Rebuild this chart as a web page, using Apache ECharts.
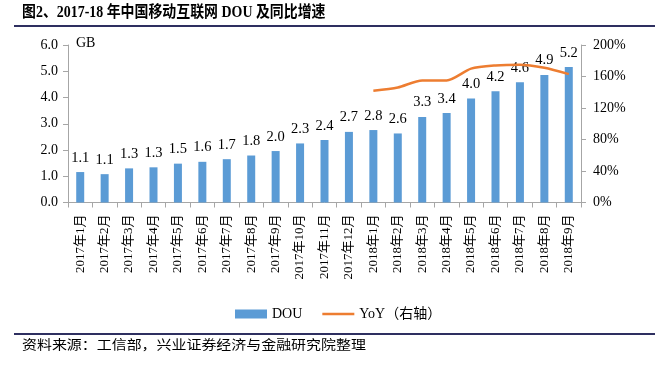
<!DOCTYPE html>
<html><head><meta charset="utf-8">
<script src="https://cdn.jsdelivr.net/npm/echarts@6/dist/echarts.min.js"></script>
<style>html,body{margin:0;padding:0;background:#fff}#c{width:665px;height:383px}</style>
</head><body><div id="c"></div>
<script>
const categories = ['2017年1月','2017年2月','2017年3月','2017年4月','2017年5月','2017年6月','2017年7月','2017年8月','2017年9月','2017年10月','2017年11月','2017年12月','2018年1月','2018年2月','2018年3月','2018年4月','2018年5月','2018年6月','2018年7月','2018年8月','2018年9月'];
const douValues = [1.16,1.08,1.30,1.34,1.48,1.55,1.65,1.79,1.96,2.25,2.38,2.69,2.76,2.63,3.26,3.41,3.96,4.24,4.58,4.86,5.16];
const douLabels = ['1.1','1.1','1.3','1.3','1.5','1.6','1.7','1.8','2.0','2.3','2.4','2.7','2.8','2.6','3.3','3.4','4.0','4.2','4.6','4.9','5.2'];
const yoyValues = [null,null,null,null,null,null,null,null,null,null,null,null,142,146,155,155,170,174,175,171,163];
const leftTicks = [0,1,2,3,4,5,6];
const rightTicks = [0,40,80,120,160,200];

const serif = "'Liberation Serif','Times New Roman','Noto Sans CJK SC',serif";
const chart = echarts.init(document.getElementById('c'), null, {renderer:'canvas'});
chart.setOption({
  animation:false,
  textStyle:{fontFamily:serif},
  grid:{left:68,right:84,top:45,bottom:180.5,containLabel:false},
  graphic:[
    {type:'text',x:22,y:5,scaleX:0.87,style:{text:'图2、2017-18 年中国移动互联网 DOU 及同比增速',fontFamily:"'Liberation Serif','Noto Sans CJK SC',serif",fontWeight:'bold',fontSize:16,fill:'#000'}},
    {type:'rect',shape:{x:14,y:25,width:641,height:2},style:{fill:'#2e2f60'}},
    {type:'rect',shape:{x:14,y:333,width:641,height:2},style:{fill:'#2e2f60'}},
    {type:'text',x:22,y:338,scaleX:1.15,style:{text:'资料来源：工信部，兴业证券经济与金融研究院整理',fontFamily:"'Noto Sans CJK SC',sans-serif",fontSize:13,fill:'#000'}},
    {type:'text',left:76,top:36,style:{text:'GB',fontFamily:serif,fontSize:14,fill:'#000'}}
  ],
  legend:{
    left:230,top:302,itemGap:20,itemWidth:32,itemHeight:9,
    textStyle:{fontFamily:"'Liberation Serif','Noto Sans CJK SC',serif",fontSize:14,color:'#000'},
    data:[{name:'DOU',icon:'rect'},{name:'YoY（右轴）',icon:'path://M0,0L100,0L100,8L0,8Z'}]
  },
  xAxis:{
    type:'category',data:categories,boundaryGap:true,
    axisLine:{lineStyle:{color:'#a6a6a6',width:1}},
    axisTick:{show:true,alignWithLabel:false,lineStyle:{color:'#a6a6a6'},length:5},
    axisLabel:{rotate:90,interval:0,margin:12,fontFamily:"'Liberation Serif','Noto Sans CJK SC',serif",fontSize:13,color:'#000'}
  },
  yAxis:[
    {type:'value',min:leftTicks[0],max:leftTicks[leftTicks.length-1],interval:1,
     axisLine:{show:true,lineStyle:{color:'#a6a6a6'}},axisTick:{show:true,lineStyle:{color:'#a6a6a6'},length:5},
     splitLine:{show:false},
     axisLabel:{margin:10,fontFamily:serif,fontSize:14,color:'#000',formatter:v=>v.toFixed(1)}},
    {type:'value',min:rightTicks[0],max:rightTicks[rightTicks.length-1],interval:40,
     axisLine:{show:true,lineStyle:{color:'#a6a6a6'}},axisTick:{show:true,lineStyle:{color:'#a6a6a6'},length:5},
     splitLine:{show:false},
     axisLabel:{margin:12,fontFamily:serif,fontSize:14,color:'#000',formatter:v=>v+'%'}}
  ],
  series:[
    {name:'DOU',type:'bar',data:douValues,barWidth:8,itemStyle:{color:'#5b9bd5'},
     label:{show:true,position:'top',distance:7,fontFamily:serif,fontSize:14.5,color:'#000',formatter:p=>douLabels[p.dataIndex]}},
    {name:'YoY（右轴）',type:'line',yAxisIndex:1,data:yoyValues,smooth:0.25,symbol:'none',
     lineStyle:{color:'#ed7d31',width:2.5},itemStyle:{color:'#ed7d31'},z:3}
  ]
});
</script></body></html>
